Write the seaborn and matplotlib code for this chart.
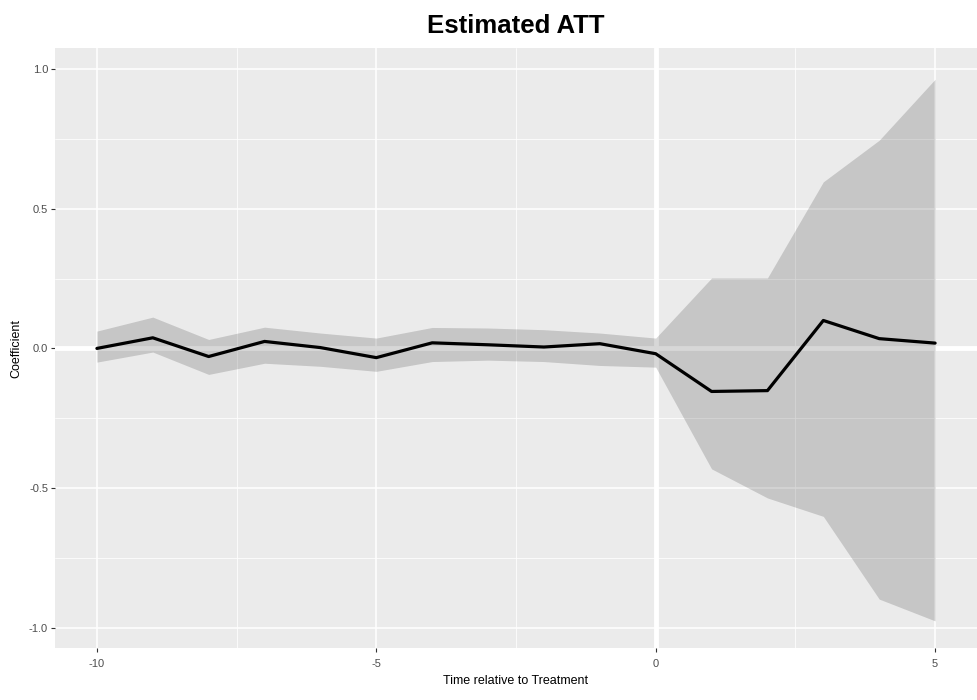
import numpy as np
import pandas as pd
import matplotlib
matplotlib.use("Agg")
import matplotlib.pyplot as plt
from matplotlib.ticker import MultipleLocator
import seaborn as sns

# Event-study estimates: relative period, point estimate and confidence band
periods = [-10, -9, -8, -7, -6, -5, -4, -3, -2, -1, 0, 1, 2, 3, 4, 5]
estimate = [0.000, 0.038, -0.029, 0.025, 0.003, -0.033, 0.020, 0.013, 0.005, 0.017,
            -0.019, -0.154, -0.151, 0.100, 0.035, 0.019]
ci_upper = [0.062, 0.112, 0.032, 0.076, 0.055, 0.037, 0.075, 0.073, 0.067, 0.055,
            0.037, 0.252, 0.252, 0.596, 0.745, 0.963]
ci_lower = [-0.049, -0.013, -0.093, -0.053, -0.064, -0.082, -0.047, -0.042, -0.047, -0.061,
            -0.067, -0.431, -0.535, -0.601, -0.897, -0.975]

df = pd.DataFrame({"period": periods, "estimate": estimate,
                   "upper": ci_upper, "lower": ci_lower})

sns.set_theme(style="darkgrid")
plt.rcParams["font.family"] = ["Liberation Sans", "DejaVu Sans"]

fig = plt.figure(figsize=(9.77, 7.0), dpi=100)
ax = fig.add_axes([55 / 977, 52 / 700, 922 / 977, 600 / 700])
ax.set_facecolor("#EBEBEB")
for s in ax.spines.values():
    s.set_visible(False)

# grid: major and minor lines in white
ax.xaxis.set_major_locator(MultipleLocator(5))
ax.xaxis.set_minor_locator(MultipleLocator(2.5))
ax.yaxis.set_major_locator(MultipleLocator(0.5))
ax.yaxis.set_minor_locator(MultipleLocator(0.25))
ax.grid(which="major", color="white", linewidth=1.1)
ax.grid(which="minor", color="white", linewidth=0.55)
ax.set_axisbelow(True)

# reference lines at zero
ax.axhline(0, color="white", linewidth=3.5, zorder=1)
ax.axvline(0, color="white", linewidth=3.5, zorder=1)

# confidence band
ax.fill_between(df["period"], df["lower"], df["upper"], color="black",
                alpha=0.157, linewidth=0, zorder=2)

# point estimates
sns.lineplot(data=df, x="period", y="estimate", color="black", linewidth=2.3,
             ax=ax, zorder=3)

ax.set_xlim(-10.75, 5.75)
ax.set_ylim(-1.072, 1.075)

ax.set_xticks([-10, -5, 0, 5])
ax.set_xticklabels(["-10", "-5", "0", "5"])
ax.set_yticks([-1.0, -0.5, 0.0, 0.5, 1.0])
ax.set_yticklabels(["-1.0", "-0.5", "0.0", "0.5", "1.0"])
ax.tick_params(axis="both", which="major", length=3, width=0.8, color="#333333",
               labelsize=8, labelcolor="#4D4D4D", bottom=True, left=True)
ax.tick_params(axis="x", which="major", pad=5)
ax.tick_params(axis="y", which="major", pad=2)
ax.tick_params(axis="both", which="minor", length=0)

ax.set_xlabel("Time relative to Treatment", fontsize=9, color="black", labelpad=4)
ax.set_ylabel("Coefficient", fontsize=9, color="black", labelpad=5)
ax.set_title("Estimated ATT", fontsize=18.5, fontweight="bold", color="black", pad=11)

fig.savefig("out.png", dpi=100)
